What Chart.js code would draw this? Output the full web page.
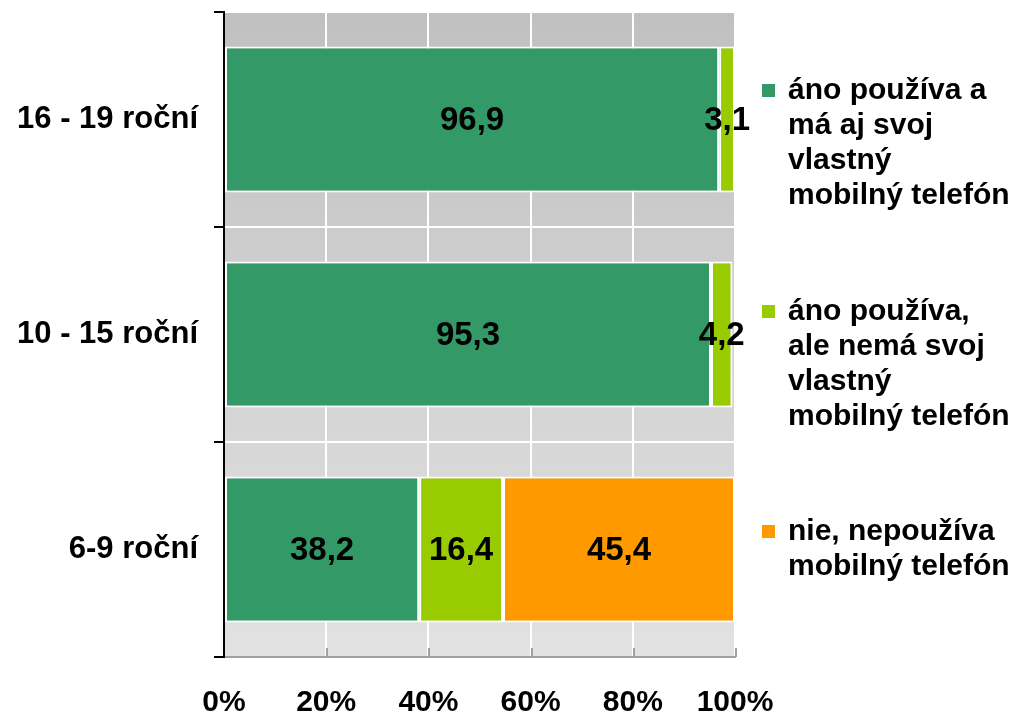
<!DOCTYPE html>
<html><head><meta charset="utf-8">
<script src="https://cdn.jsdelivr.net/npm/chart.js@4/dist/chart.umd.min.js"></script>
<style>html,body{margin:0;padding:0;background:#fff}#wrap{width:1012px;height:716px;position:relative}canvas{display:block}</style>
</head><body><div id="wrap"><canvas id="c" width="1012" height="716"></canvas></div>
<script>
// ---- data ----
const categories = ['16 - 19 roční', '10 - 15 roční', '6-9 roční'];
const seriesNames = [
  ['áno používa a', 'má aj svoj', 'vlastný', 'mobilný telefón'],
  ['áno používa,', 'ale nemá svoj', 'vlastný', 'mobilný telefón'],
  ['nie, nepoužíva', 'mobilný telefón']
];
const usesOwnPhone   = [96.9, 95.3, 38.2];
const usesNoOwnPhone = [3.1, 4.2, 16.4];
const doesNotUse     = [null, null, 45.4];
const xTickValues    = [0, 20, 40, 60, 80, 100];
const seriesColors   = ['#339966', '#99cc00', '#ff9900'];

const FONT = "'Liberation Sans', Arial, sans-serif";

const bgPlugin = {
  id: 'bg',
  beforeDraw(chart) {
    const {ctx, chartArea: a} = chart;
    const g = ctx.createLinearGradient(0, a.top, 0, a.bottom);
    g.addColorStop(0, '#c0c0c0');
    g.addColorStop(1, '#e2e2e2');
    ctx.save();
    ctx.fillStyle = g;
    ctx.fillRect(a.left, a.top, a.right - a.left, a.bottom - a.top);
    ctx.restore();
  }
};

const innerTicks = {
  id: 'innerTicks',
  afterDraw(chart) {
    const {ctx, chartArea: a} = chart;
    const xs = chart.scales.x;
    ctx.save();
    ctx.strokeStyle = '#a0a0a0';
    ctx.lineWidth = 2;
    xTickValues.slice(1).forEach(v => {
      const px = Math.round(xs.getPixelForValue(v)) + 1;
      ctx.beginPath();
      ctx.moveTo(px, a.bottom - 9);
      ctx.lineTo(px, a.bottom);
      ctx.stroke();
    });
    ctx.restore();
  }
};

const valueLabels = {
  id: 'valueLabels',
  afterDatasetsDraw(chart) {
    const ctx = chart.ctx;
    ctx.save();
    ctx.font = 'bold 33px ' + FONT;
    ctx.fillStyle = '#000';
    ctx.textAlign = 'center';
    ctx.textBaseline = 'middle';
    chart.data.datasets.forEach((ds, di) => {
      const meta = chart.getDatasetMeta(di);
      meta.data.forEach((el, i) => {
        const v = ds.data[i];
        if (v === null || v === undefined) return;
        const x = (el.x + el.base) / 2;
        ctx.fillText(v.toFixed(1).replace('.', ','), x, el.y + 1);
      });
    });
    ctx.restore();
  }
};

const sideLegend = {
  id: 'sideLegend',
  afterDraw(chart) {
    const ctx = chart.ctx;
    const baselines = [99, 320, 540];
    const lineH = 35;
    ctx.save();
    ctx.font = 'bold 30px ' + FONT;
    ctx.textAlign = 'left';
    ctx.textBaseline = 'alphabetic';
    seriesNames.forEach((lines, i) => {
      const b = baselines[i];
      ctx.fillStyle = seriesColors[i];
      ctx.fillRect(762, b - 15, 13, 13);
      ctx.fillStyle = '#000';
      lines.forEach((t, j) => ctx.fillText(t, 788, b + j * lineH));
    });
    ctx.restore();
  }
};

new Chart(document.getElementById('c'), {
  type: 'bar',
  data: {
    labels: categories,
    datasets: [
      {label: seriesNames[0].join(' '), data: usesOwnPhone, backgroundColor: seriesColors[0]},
      {label: seriesNames[1].join(' '), data: usesNoOwnPhone, backgroundColor: seriesColors[1]},
      {label: seriesNames[2].join(' '), data: doesNotUse, backgroundColor: seriesColors[2]}
    ]
  },
  options: {
    indexAxis: 'y',
    responsive: false,
    animation: false,
    devicePixelRatio: 1,
    layout: {padding: {top: 12, right: 277, left: 0, bottom: 0}},
    datasets: {bar: {barPercentage: 0.68, categoryPercentage: 1, borderColor: '#ffffff', borderWidth: 2, borderSkipped: false}},
    plugins: {legend: {display: false}, tooltip: {enabled: false}},
    scales: {
      x: {
        stacked: true, min: 0, max: 100,
        afterBuildTicks: s => { s.ticks = xTickValues.map(v => ({value: v})); },
        ticks: {color: '#000', font: {family: FONT, size: 30, weight: 'bold'}, padding: 28, maxRotation: 0,
                callback: v => v + '%'},
        grid: {color: '#ffffff', lineWidth: 2, drawTicks: false},
        border: {color: '#a0a0a0', width: 2},
        afterFit: s => { s.height = 59; s.paddingLeft = 0; s.paddingRight = 0; }
      },
      y: {
        stacked: true,
        ticks: {color: '#000', font: {family: FONT, size: 31, weight: 'bold'}, padding: 16},
        grid: {offset: true, color: '#ffffff', lineWidth: 2, tickColor: '#000', tickLength: 10, tickWidth: 2},
        border: {color: '#000', width: 2},
        afterFit: s => { s.width = 224; s.paddingTop = 0; s.paddingBottom = 0; }
      }
    }
  },
  plugins: [bgPlugin, valueLabels, innerTicks, sideLegend]
});
</script>
</body></html>
